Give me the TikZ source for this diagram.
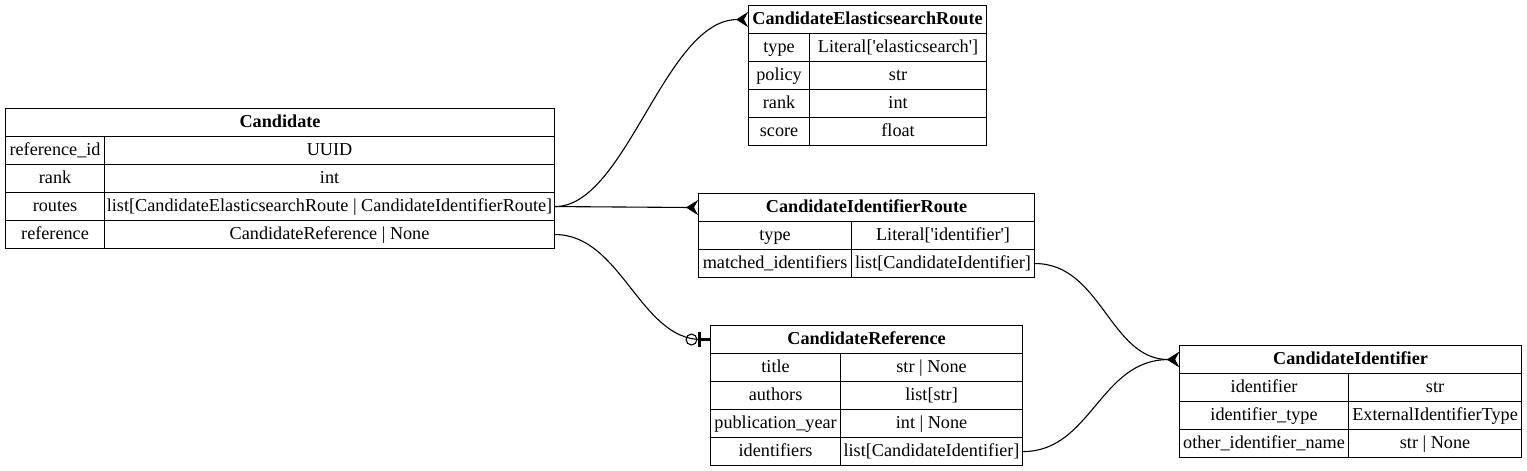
\documentclass[tikz,border=0pt]{standalone}
\usepackage{fontspec}
\setmainfont{Liberation Serif}
\usetikzlibrary{arrows.meta}

\begin{document}
\begin{tikzpicture}[x=1pt,y=-1pt,line width=1.1pt,
  cell/.style={draw,anchor=north west,minimum height=28pt,inner sep=0pt,
    text height=14pt,text depth=3.5pt,font=\fontsize{18.2}{21}\selectfont},
  head/.style={cell,font=\fontsize{18.2}{21}\selectfont\bfseries},
  crow/.style={-{Stealth[reversed,length=12pt,width=15pt,inset=4pt]}},
  zeroone/.style={-{Circle[open,length=12pt,width=12pt]Bar[width=15pt,line width=3.5pt]Rectangle[length=9pt,width=0pt]}}]
  \useasboundingbox (0,0) rectangle (1527,471);
  % Candidate
  \node[head,minimum width=549pt] (cand) at (5,108) {Candidate};
  \node[cell,minimum width=99pt] (cand-id) at (5,136) {reference\_id};
  \node[cell,minimum width=450pt] (cand-id-t) at (104,136) {UUID};
  \node[cell,minimum width=99pt] (cand-rank) at (5,164) {rank};
  \node[cell,minimum width=450pt] (cand-rank-t) at (104,164) {int};
  \node[cell,minimum width=99pt] (cand-routes) at (5,192) {routes};
  \node[cell,minimum width=450pt] (cand-routes-t) at (104,192) {list[CandidateElasticsearchRoute | CandidateIdentifierRoute]};
  \node[cell,minimum width=99pt] (cand-ref) at (5,220) {reference};
  \node[cell,minimum width=450pt] (cand-ref-t) at (104,220) {CandidateReference | None};
  % CandidateElasticsearchRoute
  \node[head,minimum width=238pt] (esr) at (748,5) {CandidateElasticsearchRoute};
  \node[cell,minimum width=61pt] (esr-type) at (748,33) {type};
  \node[cell,minimum width=177pt] (esr-type-t) at (809,33) {Literal[\textquotesingle elasticsearch\textquotesingle]};
  \node[cell,minimum width=61pt] (esr-policy) at (748,61) {policy};
  \node[cell,minimum width=177pt] (esr-policy-t) at (809,61) {str};
  \node[cell,minimum width=61pt] (esr-rank) at (748,89) {rank};
  \node[cell,minimum width=177pt] (esr-rank-t) at (809,89) {int};
  \node[cell,minimum width=61pt] (esr-score) at (748,117) {score};
  \node[cell,minimum width=177pt] (esr-score-t) at (809,117) {float};
  % CandidateIdentifierRoute
  \node[head,minimum width=336pt] (ir) at (698,193) {CandidateIdentifierRoute};
  \node[cell,minimum width=153pt] (ir-type) at (698,221) {type};
  \node[cell,minimum width=183pt] (ir-type-t) at (851,221) {Literal[\textquotesingle identifier\textquotesingle]};
  \node[cell,minimum width=153pt] (ir-match) at (698,249) {matched\_identifiers};
  \node[cell,minimum width=183pt] (ir-match-t) at (851,249) {list[CandidateIdentifier]};
  % CandidateReference
  \node[head,minimum width=312pt] (cref) at (710,325) {CandidateReference};
  \node[cell,minimum width=130pt] (cref-title) at (710,353) {title};
  \node[cell,minimum width=182pt] (cref-title-t) at (840,353) {str | None};
  \node[cell,minimum width=130pt] (cref-authors) at (710,381) {authors};
  \node[cell,minimum width=182pt] (cref-authors-t) at (840,381) {list[str]};
  \node[cell,minimum width=130pt] (cref-year) at (710,409) {publication\_year};
  \node[cell,minimum width=182pt] (cref-year-t) at (840,409) {int | None};
  \node[cell,minimum width=130pt] (cref-ids) at (710,437) {identifiers};
  \node[cell,minimum width=182pt] (cref-ids-t) at (840,437) {list[CandidateIdentifier]};
  % CandidateIdentifier
  \node[head,minimum width=342pt] (cid) at (1179,345) {CandidateIdentifier};
  \node[cell,minimum width=169pt] (cid-id) at (1179,373) {identifier};
  \node[cell,minimum width=173pt] (cid-id-t) at (1348,373) {str};
  \node[cell,minimum width=169pt] (cid-type) at (1179,401) {identifier\_type};
  \node[cell,minimum width=173pt] (cid-type-t) at (1348,401) {ExternalIdentifierType};
  \node[cell,minimum width=169pt] (cid-other) at (1179,429) {other\_identifier\_name};
  \node[cell,minimum width=173pt] (cid-other-t) at (1348,429) {str | None};
  % relations
  \draw[crow] (cand-routes-t.east) .. controls +(71,0) and +(-83,0) .. (esr.west);
  \draw[crow] (cand-routes-t.east) -- (ir.west);
  \draw[zeroone] (cand-ref-t.east) .. controls +(66,0) and +(-70,0) .. (cref.west);
  \draw[crow] (ir-match-t.east) .. controls +(66,0) and +(-69,0) .. (cid.west);
  \draw[crow] (cref-ids-t.east) .. controls +(68,0) and +(-79,0) .. (cid.west);
\end{tikzpicture}
\end{document}
